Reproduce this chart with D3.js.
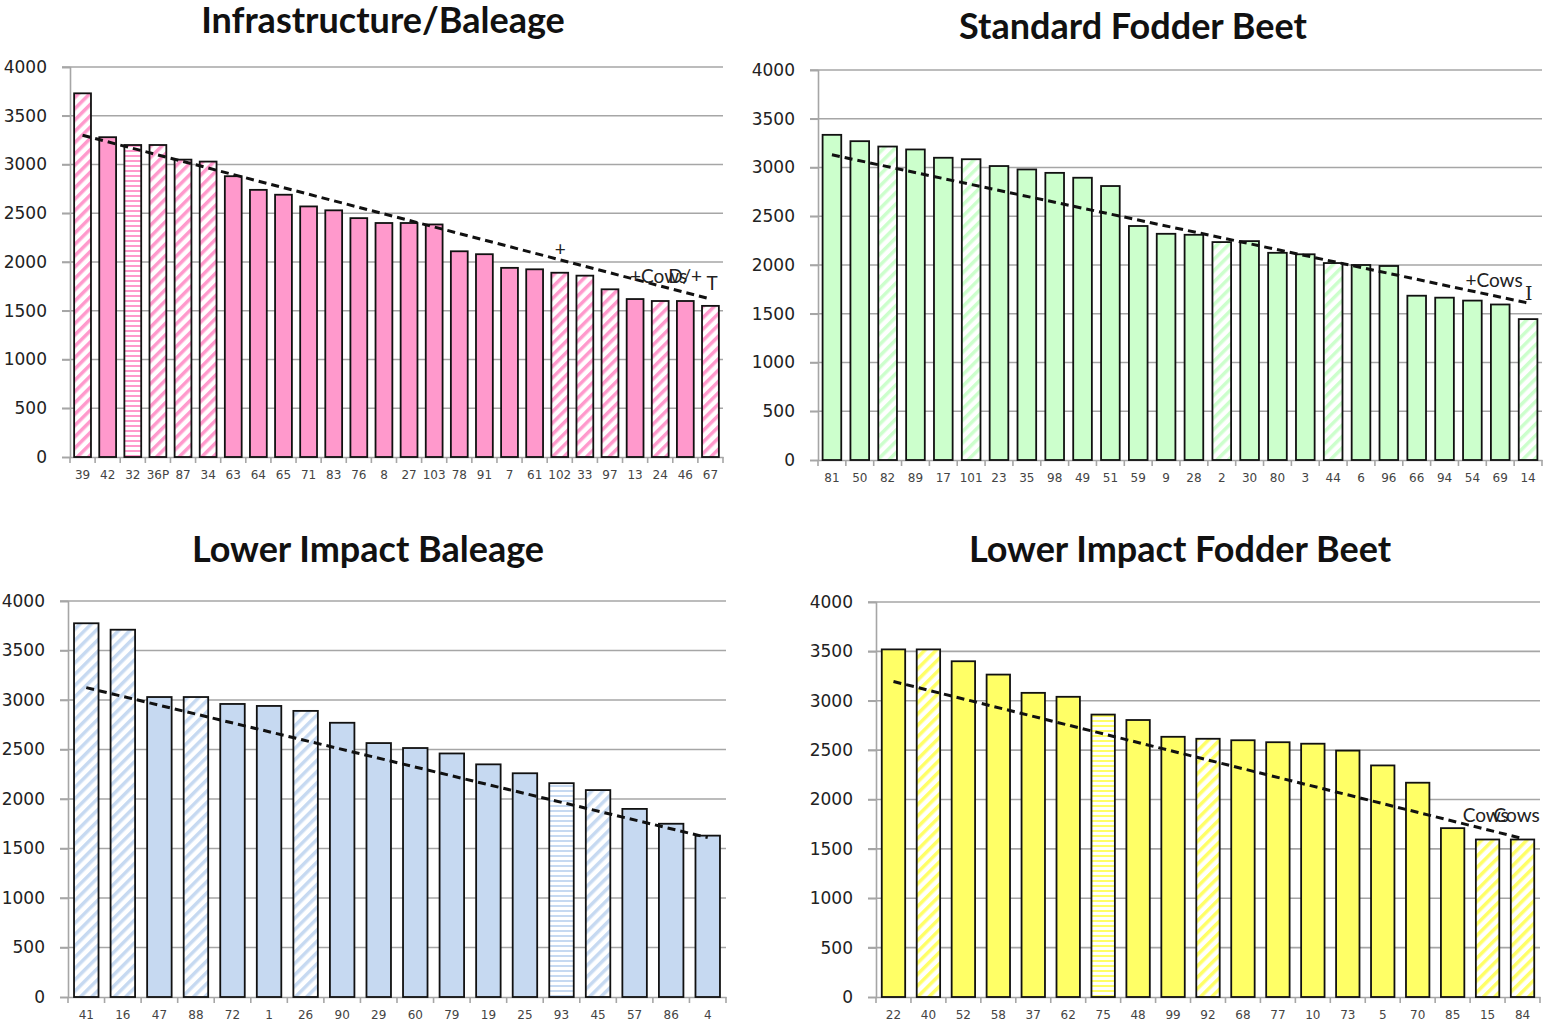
<!DOCTYPE html>
<html>
<head>
<meta charset="utf-8">
<script src="https://cdn.jsdelivr.net/npm/d3@7/dist/d3.min.js"></script>
<style>
  body { margin: 0; background: #fff; }
  svg { display: block; }
</style>
</head>
<body>
<div id="chart"></div>
<script>
// four panels, values
var titles = ["Infrastructure/Baleage", "Standard Fodder Beet", "Lower Impact Baleage", "Lower Impact Fodder Beet"];
var yTicks = [0, 500, 1000, 1500, 2000, 2500, 3000, 3500, 4000];

var cats1 = ["39","42","32","36P","87","34","63","64","65","71","83","76","8","27","103","78","91","7","61","102","33","97","13","24","46","67"];
var vals1 = [3730,3280,3200,3200,3050,3030,2880,2740,2690,2570,2530,2450,2400,2400,2385,2110,2080,1940,1925,1890,1860,1720,1620,1600,1600,1550];
var kind1 = ["d","s","h","d","d","d","s","s","s","s","s","s","s","s","s","s","s","s","s","d","d","d","s","d","s","d"];
var trend1 = [3300, 1620];

var cats2 = ["81","50","82","89","17","101","23","35","98","49","51","59","9","28","2","30","80","3","44","6","96","66","94","54","69","14"];
var vals2 = [3335,3270,3215,3185,3100,3085,3015,2980,2945,2895,2810,2400,2320,2310,2235,2245,2125,2110,2020,2000,1990,1685,1665,1635,1595,1445];
var kind2 = ["s","s","d","s","s","d","s","s","s","s","s","s","s","s","d","s","s","s","d","s","s","s","s","s","s","d"];
var trend2 = [3130, 1610];

var cats3 = ["41","16","47","88","72","1","26","90","29","60","79","19","25","93","45","57","86","4"];
var vals3 = [3775,3710,3030,3030,2960,2940,2890,2770,2565,2515,2460,2350,2260,2160,2090,1900,1750,1630];
var kind3 = ["d","d","s","d","s","s","d","s","s","s","s","s","s","h","d","s","s","s"];
var trend3 = [3125, 1610];

var cats4 = ["22","40","52","58","37","62","75","48","99","92","68","77","10","73","5","70","85","15","84"];
var vals4 = [3520,3520,3400,3265,3080,3040,2860,2805,2635,2615,2600,2580,2565,2495,2345,2170,1710,1595,1595];
var kind4 = ["s","d","s","s","s","s","h","s","s","d","s","s","s","s","s","s","s","d","d"];
var trend4 = [3195, 1605];

var colors = ["#ff99cc", "#ccffcc", "#c6d9f1", "#ffff66"];

// annotation text next to the trend lines (overlaps as in the original)
var notes1 = [
  {cat: "102", dx: -5, v: 2060, t: "+"},
  {cat: "13", dx: -5, v: 1780, t: "+Cows"},
  {cat: "24", dx: 8, v: 1780, t: "D/+"},
  {cat: "67", dx: -4, v: 1710, t: "T"}
];
var notes2 = [
  {cat: "54", dx: -7, v: 1775, t: "+Cows"},
  {cat: "14", dx: -3, v: 1640, t: "I", serif: true}
];
var notes4 = [
  {cat: "85", dx: 10, v: 1770, t: "Cows"},
  {cat: "15", dx: 6, v: 1770, t: "Cows"}
];

var panels = [
  {cats: cats1, vals: vals1, kind: kind1, trend: trend1, notes: notes1, left: 70, right: 723, top: 67, bottom: 457, ty: 33, tx: 383},
  {cats: cats2, vals: vals2, kind: kind2, trend: trend2, notes: notes2, left: 818, right: 1542, top: 70, bottom: 460, ty: 39, tx: 1133},
  {cats: cats3, vals: vals3, kind: kind3, trend: trend3, notes: [], left: 68, right: 726, top: 601, bottom: 997, ty: 562, tx: 368},
  {cats: cats4, vals: vals4, kind: kind4, trend: trend4, notes: notes4, left: 876, right: 1540, top: 602, bottom: 997, ty: 562, tx: 1180}
];

var svg = d3.select("#chart").append("svg")
    .attr("width", 1547)
    .attr("height", 1029);

var defs = svg.append("defs");

colors.forEach(function(c, i) {
  var pd = defs.append("pattern")
      .attr("id", "diag" + i)
      .attr("patternUnits", "userSpaceOnUse")
      .attr("width", 8).attr("height", 8)
      .attr("patternTransform", "rotate(45)");
  pd.append("rect").attr("width", 8).attr("height", 8).attr("fill", "#fff");
  pd.append("rect").attr("width", 3.5).attr("height", 8).attr("fill", c);

  var ph = defs.append("pattern")
      .attr("id", "horiz" + i)
      .attr("patternUnits", "userSpaceOnUse")
      .attr("width", 6).attr("height", 5);
  ph.append("rect").attr("width", 6).attr("height", 5).attr("fill", "#fff");
  ph.append("rect").attr("width", 6).attr("height", 2).attr("fill", c);
});

panels.forEach(function(p, pi) {
  var g = svg.append("g");

  var x = d3.scaleBand()
      .domain(p.cats)
      .range([p.left, p.right])
      .paddingInner(0.33)
      .paddingOuter(0.165);

  var y = d3.scaleLinear()
      .domain([0, 4000])
      .range([p.bottom, p.top]);

  // title
  g.append("text")
      .attr("x", p.tx)
      .attr("y", p.ty)
      .attr("text-anchor", "middle")
      .style("font-family", "Lato, 'Open Sans', sans-serif")
      .style("font-weight", "bold")
      .style("font-size", "36px")
      .style("fill", "#111")
      .text(titles[pi]);

  // grid lines
  g.selectAll(".grid")
      .data(yTicks.slice(1))
      .enter().append("line")
      .attr("x1", p.left - 8)
      .attr("x2", p.right)
      .attr("y1", function(d) { return y(d); })
      .attr("y2", function(d) { return y(d); })
      .style("stroke", "#a6a6a6")
      .style("stroke-width", 1.6);

  // y axis
  var ya = g.append("g")
      .attr("transform", "translate(" + p.left + ",0)")
      .call(d3.axisLeft(y).tickValues(yTicks).tickFormat(d3.format("d")).tickSize(8).tickPadding(15));
  ya.select(".domain").style("stroke", "#a6a6a6").style("stroke-width", 1.6);
  ya.selectAll(".tick line").style("stroke", "#a6a6a6").style("stroke-width", 1.6);
  ya.selectAll("text")
      .style("font-family", "'DejaVu Sans', Verdana, sans-serif")
      .style("font-size", "17px")
      .style("fill", "#222");

  // x axis, ticks between categories
  var xa = g.append("g")
      .attr("transform", "translate(0," + p.bottom + ")")
      .call(d3.axisBottom(x).tickSize(0).tickPadding(13));
  xa.select(".domain").style("stroke", "#a6a6a6").style("stroke-width", 1.6);
  xa.selectAll("text")
      .style("font-family", "'DejaVu Sans', Verdana, sans-serif")
      .style("font-size", "12px")
      .style("fill", "#444");

  var step = x.step();
  var bounds = d3.range(p.cats.length + 1).map(function(i) { return p.left + i * step; });
  g.selectAll(".xtick")
      .data(bounds)
      .enter().append("line")
      .attr("x1", function(d) { return d; })
      .attr("x2", function(d) { return d; })
      .attr("y1", p.bottom)
      .attr("y2", p.bottom + 6)
      .style("stroke", "#a6a6a6")
      .style("stroke-width", 1.6);

  // bars
  var data = p.cats.map(function(c, i) { return {cat: c, v: p.vals[i], k: p.kind[i]}; });
  g.selectAll(".bar")
      .data(data)
      .enter().append("rect")
      .attr("x", function(d) { return x(d.cat); })
      .attr("y", function(d) { return y(d.v); })
      .attr("width", x.bandwidth())
      .attr("height", function(d) { return y(0) - y(d.v); })
      .style("fill", function(d) {
        if (d.k == "d") return "url(#diag" + pi + ")";
        if (d.k == "h") return "url(#horiz" + pi + ")";
        return colors[pi];
      })
      .style("stroke", "#111")
      .style("stroke-width", 1.8);

  // trend line
  var first = p.cats[0], last = p.cats[p.cats.length - 1];
  g.append("line")
      .attr("x1", x(first) + x.bandwidth() / 2)
      .attr("x2", x(last) + x.bandwidth() / 2)
      .attr("y1", y(p.trend[0]))
      .attr("y2", y(p.trend[1]))
      .style("stroke", "#111")
      .style("stroke-width", 3)
      .style("stroke-dasharray", "8,5");

  // notes
  g.selectAll(".note")
      .data(p.notes)
      .enter().append("text")
      .attr("x", function(d) { return x(d.cat) + x.bandwidth() / 2 + d.dx; })
      .attr("y", function(d) { return y(d.v); })
      .style("font-family", function(d) { return d.serif ? "'DejaVu Serif', serif" : "Lato, 'Open Sans', sans-serif"; })
      .style("font-size", "19px")
      .style("fill", "#222")
      .text(function(d) { return d.t; });
});
</script>
</body>
</html>
